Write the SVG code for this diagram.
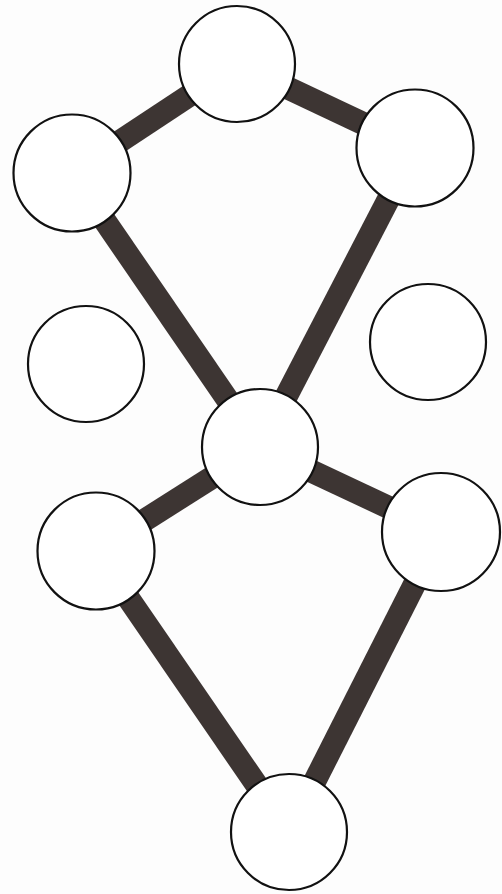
<svg xmlns="http://www.w3.org/2000/svg" width="502" height="894" viewBox="0 0 502 894">
<style>
.edge{stroke:#3d3533;stroke-width:23;stroke-linecap:butt;fill:none}
.node{fill:#fff;stroke:#111;stroke-width:2.2}
</style>
<rect width="502" height="894" fill="#fdfdfd"/>
<g id="connectors">
<line class="edge" x1="237" y1="64" x2="72" y2="173"/>
<line class="edge" x1="237" y1="64" x2="415" y2="148"/>
<line class="edge" x1="72" y1="173" x2="260" y2="447"/>
<line class="edge" x1="415" y1="148" x2="260" y2="447"/>
<line class="edge" x1="260" y1="447" x2="96" y2="551"/>
<line class="edge" x1="260" y1="447" x2="441" y2="532"/>
<line class="edge" x1="96" y1="551" x2="289" y2="832"/>
<line class="edge" x1="441" y1="532" x2="289" y2="832"/>
</g>
<g id="n1"><circle class="node" cx="237" cy="64" r="58"/></g>
<g id="n2"><circle class="node" cx="72" cy="173" r="58.5"/></g>
<g id="n3"><circle class="node" cx="415" cy="148" r="58.5"/></g>
<g id="n4"><circle class="node" cx="86" cy="364" r="58"/></g>
<g id="n5"><circle class="node" cx="428" cy="342" r="58"/></g>
<g id="n6"><circle class="node" cx="260" cy="447" r="58"/></g>
<g id="n7"><circle class="node" cx="96" cy="551" r="58.5"/></g>
<g id="n8"><circle class="node" cx="441" cy="532" r="59"/></g>
<g id="n9"><circle class="node" cx="289" cy="832" r="58"/></g>
</svg>
